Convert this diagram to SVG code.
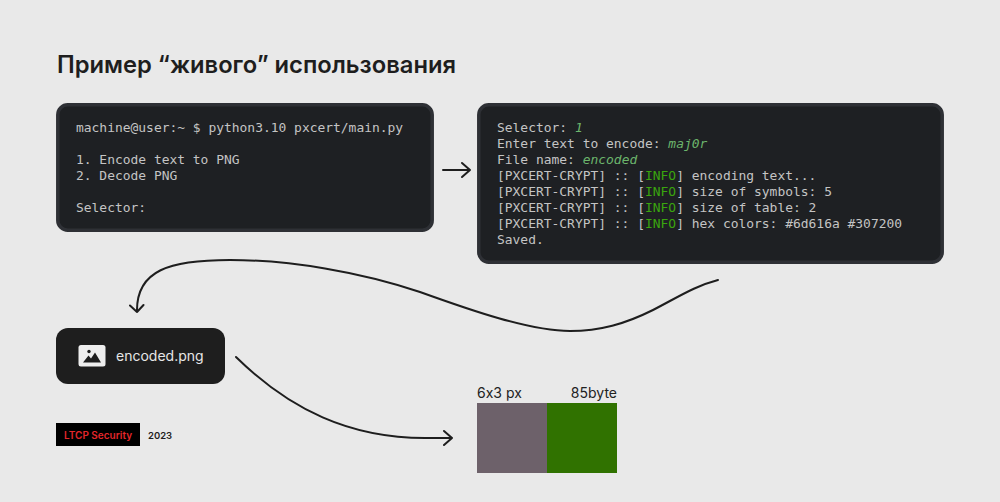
<svg xmlns="http://www.w3.org/2000/svg" width="1000" height="502" viewBox="0 0 1000 502">
<style>
.t{fill:#1e2023;stroke:#2e3035;stroke-width:3.5}
.m{font-family:"DejaVu Sans Mono",monospace;font-size:12.95px;fill:#c4c4c4}
.g{fill:#6cb56c;font-style:italic}
.i{fill:#3aa50e}
.s{font-family:Inter,"Liberation Sans",sans-serif;font-feature-settings:"calt" 0}
.c{fill:none;stroke:#1e1e1e;stroke-width:2;stroke-linecap:round;stroke-linejoin:round}
</style>
<rect width="1000" height="502" fill="#e9e9e9"/>
<text class="s" x="57" y="73" font-size="23.750" font-weight="600" fill="#1e1e1e">Пример “живого” использования</text>
<g id="terminal-1">
<rect class="t" x="57.800" y="104.800" width="374.400" height="125.400" rx="10"/>
<text class="m" x="76" y="132">machine@user:~ $ python3.10 pxcert/main.py</text>
<text class="m" x="76" y="164">1. Encode text to PNG</text>
<text class="m" x="76" y="180">2. Decode PNG</text>
<text class="m" x="76" y="212">Selector:</text>
</g>
<g id="terminal-2">
<rect class="t" x="478.800" y="104.800" width="463.400" height="157.400" rx="10"/>
<text class="m" x="497" y="132">Selector: <tspan class="g">1</tspan></text>
<text class="m" x="497" y="148">Enter text to encode: <tspan class="g">maj0r</tspan></text>
<text class="m" x="497" y="164">File name: <tspan class="g">encoded</tspan></text>
<text class="m" x="497" y="180">[PXCERT-CRYPT] :: [<tspan class="i">INFO</tspan>] encoding text...</text>
<text class="m" x="497" y="196">[PXCERT-CRYPT] :: [<tspan class="i">INFO</tspan>] size of symbols: 5</text>
<text class="m" x="497" y="212">[PXCERT-CRYPT] :: [<tspan class="i">INFO</tspan>] size of table: 2</text>
<text class="m" x="497" y="228">[PXCERT-CRYPT] :: [<tspan class="i">INFO</tspan>] hex colors: #6d616a #307200</text>
<text class="m" x="497" y="244">Saved.</text>
</g>
<g id="file">
<rect x="56" y="328" width="169" height="56" rx="12" fill="#1e1e1e"/>
<rect x="78.500" y="345" width="27" height="21.500" rx="2.500" fill="#eeeeee"/>
<circle cx="89" cy="351.500" r="1.700" fill="#1e1e1e"/>
<path d="M83 362.500L88.500 355.500L91 358.500L95 352.500L101 362.500Z" fill="#1e1e1e"/>
<text class="s" x="116" y="361" font-size="14" fill="#e6e6e6">encoded.png</text>
</g>
<g id="brand">
<rect x="56" y="423" width="84" height="23" fill="#000"/>
<text class="s" x="64" y="438.500" font-size="10" font-weight="600" fill="#e3262b">LTCP Security</text>
<text class="s" x="148" y="438.500" font-size="9.500" font-weight="600" fill="#1e1e1e">2023</text>
</g>
<g id="result">
<text class="s" x="477" y="398" font-size="14" fill="#222">6x3 px</text>
<text class="s" x="617" y="398" font-size="14" fill="#222" text-anchor="end">85byte</text>
<rect x="477" y="403" width="70" height="70" fill="#6d616a"/>
<rect x="547" y="403" width="70" height="70" fill="#307200"/>
</g>
<g id="connectors">
<path class="c" d="M443 170H470M462 163L470 170L462 177"/>
<path class="c" d="M718 280C695 286 680 296 653 310C625 324 600 331 570 331C530 331 470 310 420 292C360 272 290 260 230 260C170 260 136 270 137 312M130 305.500L137 312L143.500 305"/>
<path class="c" d="M236 357C290 410 350 438 425 438H452M444 431L452 438L444 445"/>
</g>
</svg>
